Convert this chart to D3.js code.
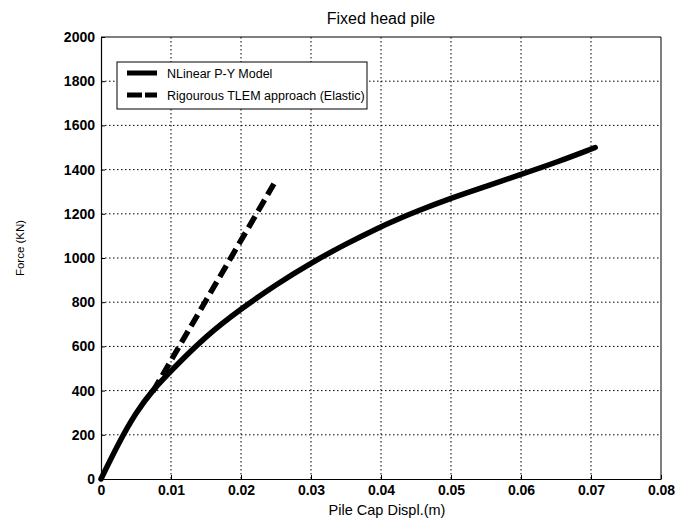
<!DOCTYPE html>
<meta charset="utf-8">
<style>
    body { margin: 0; background: white; }
    text { font-family: "Liberation Sans", Arial, sans-serif; fill: black; }
</style>
<script src="https://d3js.org/d3.v7.min.js"></script>
<body>
<script>

    // pile cap displacement (m) and force (kN)
    var pyDispl = [0, 0.0025, 0.005, 0.0075, 0.01, 0.015, 0.02, 0.025, 0.03, 0.035, 0.04, 0.042, 0.045, 0.05, 0.055, 0.06, 0.065, 0.0706]
    var pyForce = [0, 162, 302, 407, 490, 648, 770, 880, 978, 1064, 1142, 1170, 1210, 1271, 1324, 1378, 1432, 1500]

    var tlemDispl = [0.0074, 0.0247]
    var tlemForce = [395, 1335]

    var xTicks = [0, 0.01, 0.02, 0.03, 0.04, 0.05, 0.06, 0.07, 0.08]
    var yTicks = [0, 200, 400, 600, 800, 1000, 1200, 1400, 1600, 1800, 2000]

    var seriesNames = ["NLinear P-Y Model", "Rigourous TLEM approach (Elastic)"]

    var width = 681
    var height = 526
    var plotLeft = 101, plotRight = 661, plotTop = 37, plotBottom = 479

    var svg = d3.select("body")
        .append("svg")
        .attr("width", width)
        .attr("height", height)

    var x = d3.scaleLinear().domain([0, 0.08]).range([plotLeft, plotRight])
    var y = d3.scaleLinear().domain([0, 2000]).range([plotBottom, plotTop])

    // grid
    svg.append("g")
        .selectAll("line")
        .data(xTicks.slice(1, -1))
        .enter().append("line")
        .attr("x1", d => x(d)).attr("x2", d => x(d))
        .attr("y1", plotTop).attr("y2", plotBottom)
        .attr("stroke", "black")
        .attr("stroke-width", 1)
        .attr("stroke-dasharray", "1.5,2.5")

    svg.append("g")
        .selectAll("line")
        .data(yTicks.slice(1, -1))
        .enter().append("line")
        .attr("x1", plotLeft).attr("x2", plotRight)
        .attr("y1", d => y(d)).attr("y2", d => y(d))
        .attr("stroke", "black")
        .attr("stroke-width", 1)
        .attr("stroke-dasharray", "1.5,2.5")

    // axes
    var xAxis = svg.append("g")
        .attr("transform", "translate(0," + plotBottom + ")")
        .call(d3.axisBottom(x).tickValues(xTicks).tickFormat(d => d === 0 ? "0" : d3.format(".2f")(d)).tickSizeInner(-4).tickSizeOuter(0).tickPadding(6))
    var yAxis = svg.append("g")
        .attr("transform", "translate(" + plotLeft + ",0)")
        .call(d3.axisLeft(y).tickValues(yTicks).tickFormat(d3.format("d")).tickSizeInner(-4).tickSizeOuter(0).tickPadding(6))

    svg.selectAll(".tick text")
        .attr("font-family", "'Liberation Sans', Arial, sans-serif")
        .attr("font-size", "14px")
        .attr("font-weight", "bold")
        .attr("fill", "black")
    svg.selectAll(".domain").attr("stroke", "black").attr("stroke-width", 1.2)

    // box top and right
    svg.append("path")
        .attr("d", "M" + plotLeft + "," + plotTop + "H" + plotRight + "V" + plotBottom)
        .attr("fill", "none")
        .attr("stroke", "black")
        .attr("stroke-width", 1)

    var line = d3.line()
        .x(d => x(d[0]))
        .y(d => y(d[1]))
        .curve(d3.curveBasis)

    svg.append("path")
        .datum(d3.zip(pyDispl, pyForce))
        .attr("d", line)
        .attr("fill", "none")
        .attr("stroke", "black")
        .attr("stroke-width", 5.5)
        .attr("stroke-linecap", "round")

    svg.append("path")
        .datum(d3.zip(tlemDispl, tlemForce))
        .attr("d", d3.line().x(d => x(d[0])).y(d => y(d[1])))
        .attr("fill", "none")
        .attr("stroke", "black")
        .attr("stroke-width", 5.5)
        .attr("stroke-dasharray", "13,6")

    // legend
    var legend = svg.append("g")
    legend.append("rect")
        .attr("x", 117).attr("y", 62)
        .attr("width", 250).attr("height", 47)
        .attr("fill", "white")
        .attr("stroke", "black")
        .attr("stroke-width", 1)

    seriesNames.forEach(function (name, i) {
        var ly = 73 + i * 22
        legend.append("line")
            .attr("x1", 127).attr("x2", 157)
            .attr("y1", ly).attr("y2", ly)
            .attr("stroke", "black")
            .attr("stroke-width", 5)
            .attr("stroke-dasharray", i === 1 ? "15,3" : null)
        legend.append("text")
            .text(name)
            .attr("x", 167)
            .attr("y", ly + 5)
            .attr("font-size", "12.5px")
    })

    svg.append("text")
        .text("Fixed head pile")
        .attr("x", 381)
        .attr("y", 24)
        .attr("text-anchor", "middle")
        .attr("font-size", "16px")

    svg.append("text")
        .text("Pile Cap Displ.(m)")
        .attr("x", 387)
        .attr("y", 515)
        .attr("text-anchor", "middle")
        .attr("font-size", "14.5px")

    svg.append("text")
        .text("Force (KN)")
        .attr("transform", "translate(24,248) rotate(-90)")
        .attr("text-anchor", "middle")
        .attr("font-size", "11.5px")

</script>
</body>
